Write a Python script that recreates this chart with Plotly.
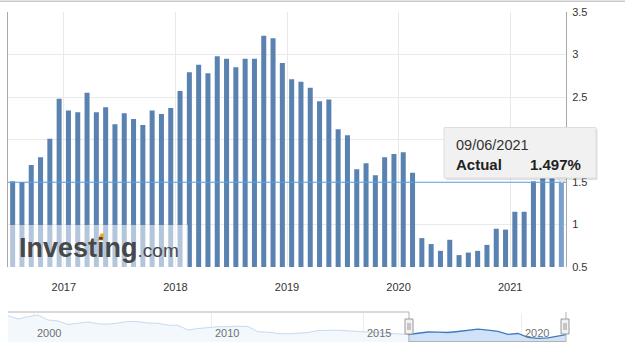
import plotly.graph_objects as go
import pandas as pd

# ---------------- data ----------------
months = pd.date_range("2016-07-01", periods=60, freq="MS")
values = [1.51, 1.50, 1.70, 1.79, 2.01, 2.48,
          2.34, 2.32, 2.55, 2.32, 2.38, 2.18, 2.31, 2.24, 2.17, 2.34, 2.30, 2.37,
          2.57, 2.79, 2.88, 2.78, 2.98, 2.95, 2.85, 2.95, 2.95, 3.22, 3.19, 2.90,
          2.71, 2.68, 2.61, 2.45, 2.47, 2.12, 2.05, 1.65, 1.72, 1.58, 1.79, 1.83,
          1.85, 1.61, 0.84, 0.77, 0.69, 0.82, 0.64, 0.67, 0.69, 0.76, 0.95, 0.94,
          1.15, 1.15, 1.51, 1.68, 1.68, 1.497]
last_date = "09/06/2021"
series_name = "Actual"

# navigator overview (ordinal samples, oldest -> newest)
nav_values = [6.66, 5.78, 6.39, 6.84, 5.51, 5.25, 4.32, 4.58, 4.98, 4.50,
              4.40, 4.72, 5.12, 5.06, 4.72, 4.64, 4.13, 4.10, 2.85, 3.25,
              3.57, 3.73, 3.73, 3.87, 3.79, 2.40, 2.27, 1.92, 1.84, 1.98,
              2.19, 2.72, 2.85, 2.80, 2.64, 2.45, 2.32, 2.14, 1.98, 1.74,
              1.66, 1.90, 2.32, 2.27, 2.19, 2.45, 2.77, 3.07, 2.80, 2.51,
              1.71, 1.92, 0.91, 0.65, 0.78, 1.31, 1.71]
nav_tick_labels = ["2000", "2010", "2015", "2020"]
nav_tick_index = [2.5, 20.3, 35.5, 51.3]
nav_sel_start = 40

# ---------------- helpers ----------------
def px(x):
    return (x - 8) / 558.0

def py(y):
    return (342 - y) / 330.0

FONT = "Liberation Sans, Arial, sans-serif"
BAR = "#5a82b0"
BAR_HOVER = "#7aa0cc"

idx = list(range(len(values)))
years = [m.year for m in months]
tickvals, ticktext = [], []
for y in sorted(set(years)):
    first = years.index(y)
    if months[first].month == 1:
        tickvals.append(first - 0.5)
        ticktext.append(str(y))

colors = [BAR] * (len(values) - 1) + [BAR_HOVER]

fig = go.Figure()
fig.add_trace(go.Bar(x=idx, y=values, marker=dict(color=colors, line=dict(width=0)),
                     xaxis="x", yaxis="y", hoverinfo="skip"))

# navigator
nav_x = list(range(len(nav_values)))
nav_min, nav_max = -0.34, 7.38
un_x = nav_x[:nav_sel_start + 1]
un_y = nav_values[:nav_sel_start + 1]
se_x = nav_x[nav_sel_start:]
se_y = nav_values[nav_sel_start:]
fig.add_trace(go.Scatter(x=un_x, y=[nav_min] * len(un_x), mode="lines",
                         line=dict(width=0, color="rgba(0,0,0,0)"), xaxis="x2", yaxis="y2", hoverinfo="skip"))
fig.add_trace(go.Scatter(x=un_x, y=un_y, mode="lines", fill="tonexty", fillcolor="#f3f8fd",
                         line=dict(width=1, color="#c6dbef"), xaxis="x2", yaxis="y2", hoverinfo="skip"))
fig.add_trace(go.Scatter(x=se_x, y=[nav_min] * len(se_x), mode="lines",
                         line=dict(width=0, color="rgba(0,0,0,0)"), xaxis="x2", yaxis="y2", hoverinfo="skip"))
fig.add_trace(go.Scatter(x=se_x, y=se_y, mode="lines", fill="tonexty", fillcolor="#d0e2f8",
                         line=dict(width=1.3, color="#3f7abf"), xaxis="x2", yaxis="y2", hoverinfo="skip"))

shapes = []
# top border
shapes.append(dict(type="line", xref="paper", yref="paper", x0=px(0), x1=px(625), y0=py(1.3), y1=py(1.3),
                   line=dict(color="#c8c8c8", width=1.5), layer="above"))
# current value line
shapes.append(dict(type="line", xref="paper", yref="y", x0=0, x1=1, y0=values[-1], y1=values[-1],
                   line=dict(color="#5aa3e6", width=1), layer="above"))
# watermark box
shapes.append(dict(type="rect", xref="paper", yref="paper", x0=px(9), x1=px(188), y0=py(267), y1=py(225),
                   fillcolor="rgba(255,255,255,0.55)", line=dict(width=0), layer="above"))
# orange accent
shapes.append(dict(type="path", xref="paper", yref="paper",
                   path="M %f,%f L %f,%f L %f,%f L %f,%f Z" % (px(97.5), py(240.5), px(100.5), py(233.5),
                                                                 px(104), py(233.5), px(103.5), py(240.5)),
                   fillcolor="#f6a523", line=dict(width=0), layer="above"))
# tooltip shadow + box
shapes.append(dict(type="rect", xref="paper", yref="paper", x0=px(446), x1=px(597.5), y0=py(180), y1=py(129),
                   fillcolor="rgba(0,0,0,0.12)", line=dict(width=0), layer="above"))
shapes.append(dict(type="rect", xref="paper", yref="paper", x0=px(444), x1=px(596), y0=py(178), y1=py(127.5),
                   fillcolor="#f1f1f1", line=dict(color="#dedede", width=1), layer="above"))
shapes.append(dict(type="path", xref="paper", yref="paper",
                   path="M %f,%f L %f,%f L %f,%f Z" % (px(557), py(178), px(567), py(178), px(562), py(183)),
                   fillcolor="#e4e4e4", line=dict(color="#cfcfcf", width=1), layer="above"))
# navigator outline
ol = dict(color="#b3b3b3", width=1)
shapes += [
    dict(type="line", xref="paper", yref="paper", x0=px(8), x1=px(409), y0=py(312), y1=py(312), line=ol, layer="above"),
    dict(type="line", xref="paper", yref="paper", x0=px(409), x1=px(409), y0=py(312), y1=py(342), line=ol, layer="above"),
    dict(type="line", xref="paper", yref="paper", x0=px(409), x1=px(566), y0=py(341.5), y1=py(341.5), line=ol, layer="above"),
    dict(type="line", xref="paper", yref="paper", x0=px(566), x1=px(566), y0=py(312), y1=py(342), line=ol, layer="above"),
]
for hx in (409, 565):
    shapes.append(dict(type="rect", xref="paper", yref="paper", x0=px(hx - 4), x1=px(hx + 4), y0=py(334), y1=py(319),
                       fillcolor="#f2f2f2", line=dict(color="#999999", width=1), layer="above"))
    for dx in (-1, 1):
        shapes.append(dict(type="line", xref="paper", yref="paper", x0=px(hx + dx), x1=px(hx + dx),
                           y0=py(323), y1=py(330), line=dict(color="#999999", width=1), layer="above"))

annotations = [
    dict(xref="paper", yref="paper", x=px(17), y=py(247.5), xanchor="left", yanchor="middle",
         text="<b>Investing</b><span style='font-size:19px'>.com</span>", showarrow=False,
         font=dict(family=FONT, size=27, color="#484848")),
    dict(xref="paper", yref="paper", x=px(454), y=py(145), xanchor="left", yanchor="middle",
         text=last_date, showarrow=False, font=dict(family=FONT, size=14.5, color="#333333")),
    dict(xref="paper", yref="paper", x=px(454), y=py(164.5), xanchor="left", yanchor="middle",
         text="<b>%s</b>" % series_name, showarrow=False, font=dict(family=FONT, size=15, color="#222222")),
    dict(xref="paper", yref="paper", x=px(582.5), y=py(164.5), xanchor="right", yanchor="middle",
         text="<b>%.3f%%</b>" % values[-1], showarrow=False, font=dict(family=FONT, size=15, color="#222222")),
]
for lab, ti in zip(nav_tick_labels, nav_tick_index):
    annotations.append(dict(xref="x2", yref="paper", x=ti, y=py(333), xanchor="left", yanchor="middle",
                            xshift=2, text=lab, showarrow=False, font=dict(family=FONT, size=11, color="#707070")))

fig.update_layout(
    width=625, height=351,
    margin=dict(l=8, r=59, t=12, b=9, pad=0, autoexpand=False),
    paper_bgcolor="white", plot_bgcolor="white",
    showlegend=False, hovermode=False, bargap=0.46,
    font=dict(family=FONT, size=11, color="#333333"),
    xaxis=dict(domain=[0, 1], anchor="y", range=[-0.5, len(values) - 0.5], tickvals=tickvals, ticktext=ticktext,
               showgrid=True, gridcolor="#e9e9e9", gridwidth=1, zeroline=False, showline=False,
               ticks="outside", ticklen=10, tickcolor="rgba(0,0,0,0)", automargin=False,
               tickfont=dict(family=FONT, size=11, color="#333333")),
    yaxis=dict(domain=[py(267), 1], anchor="x", side="right", range=[0.5, 3.5], tick0=0.5, dtick=0.5,
               showgrid=True, gridcolor="#e9e9e9", gridwidth=1, zeroline=False,
               showline=True, linecolor="#a8a8a8", linewidth=1, mirror=True, automargin=False,
               ticks="outside", ticklen=3, tickcolor="rgba(0,0,0,0)",
               tickfont=dict(family=FONT, size=11, color="#333333")),
    xaxis2=dict(domain=[0, 1], anchor="y2", range=[0, 55.8], tickvals=nav_tick_index, showticklabels=False,
                showgrid=True, gridcolor="#ececec", zeroline=False, showline=False, ticks="", automargin=False),
    yaxis2=dict(domain=[0, py(313)], anchor="x2", range=[nav_min, nav_max], visible=False, fixedrange=True,
                automargin=False),
    shapes=shapes, annotations=annotations,
)

fig.write_html("out.html")
